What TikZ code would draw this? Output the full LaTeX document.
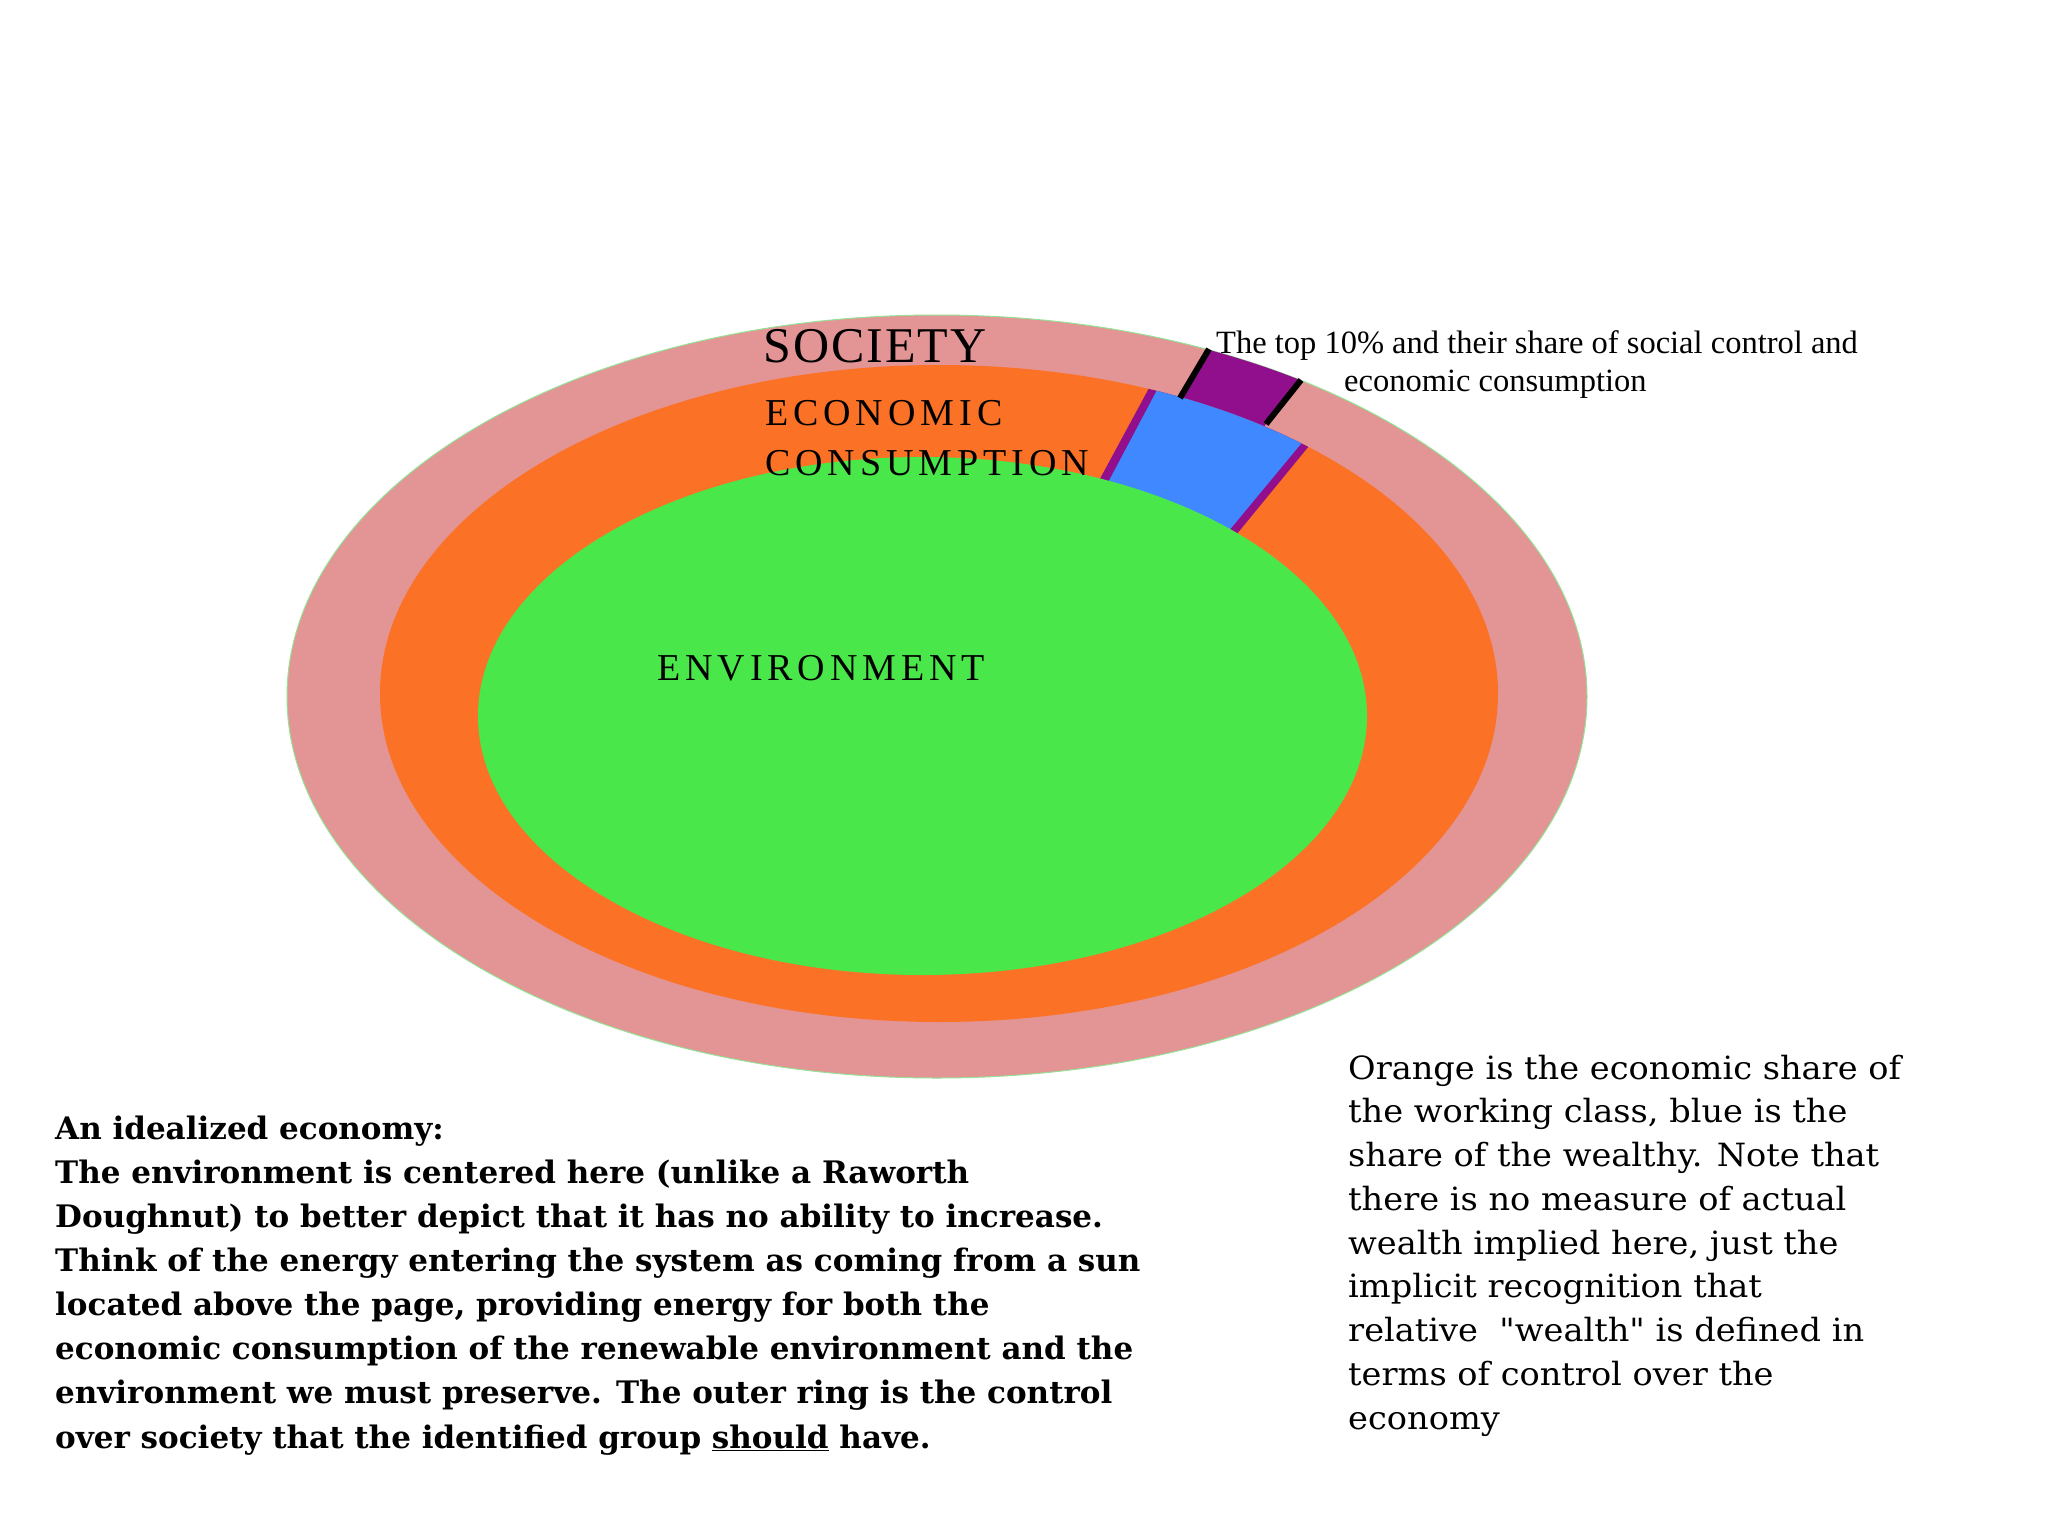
\documentclass[tikz,border=0pt]{standalone}
\usepackage{fontspec}
\setmainfont{Liberation Serif}
\newfontfamily\capsfont[LetterSpace=13]{Liberation Serif}
\newfontfamily\soccapsfont[LetterSpace=4]{Liberation Serif}
\newfontfamily\leftfont{DejaVu Serif}
\newfontfamily\rightfont[FakeStretch=1.05]{DejaVu Serif}
\definecolor{pinkring}{RGB}{227,148,148}
\definecolor{orangering}{RGB}{251,114,38}
\definecolor{greenenv}{RGB}{74,231,74}
\definecolor{bluewedge}{RGB}{64,136,255}
\definecolor{purplewedge}{RGB}{145,15,140}
\definecolor{rimgreen}{RGB}{150,225,150}
\tikzset{
  label/.style={inner sep=0pt, text=black},
  blackedge/.style={line width=6pt, black},
}
\begin{document}
\begin{tikzpicture}[x=1pt,y=-1pt]
\useasboundingbox (0,0) rectangle (2048,1536);
\fill[white] (0,0) rectangle (2048,1536);
% outer society ring
\fill[pinkring] (937,696.5) ellipse [x radius=650, y radius=381.5];
\draw[rimgreen, line width=1pt] (937,696.5) ellipse [x radius=650, y radius=381.5];
% purple top-10% wedge in society ring
\begin{scope}
  \clip (1238,300) -- (1353.5,314) -- (1231,468) -- (1151,447) -- cycle;
  \fill[purplewedge] (937,696.5) ellipse [x radius=650, y radius=381.5];
\end{scope}
% orange economic ring
\fill[orangering] (939,693.5) ellipse [x radius=559, y radius=328.5];
% purple stripes + blue wedge in economic ring
\begin{scope}
  \clip (1194,305) -- (1377,363) -- (1209,568) -- (1056,560) -- cycle;
  \fill[purplewedge] (939,693.5) ellipse [x radius=559, y radius=328.5];
\end{scope}
\begin{scope}
  \clip (1202,305) -- (1368,363) -- (1198,568) -- (1067,560) -- cycle;
  \fill[bluewedge] (939,693.5) ellipse [x radius=559, y radius=328.5];
\end{scope}
% green environment
\fill[greenenv] (922.5,716) ellipse [x radius=444.5, y radius=259];
% black edges of the top wedge
\coordinate (la) at (1209,349);
\coordinate (lb) at (1180,398);
\coordinate (ra) at (1301,380);
\coordinate (rb) at (1266,424);
\draw[blackedge] (la) -- (lb);
\draw[blackedge] (ra) -- (rb);
% ring labels
\node[label, anchor=base west] (soc) at (763,362) {\soccapsfont\fontsize{50}{50}\selectfont SOCIETY};
\node[label, anchor=base west] (eco) at (765,425) {\capsfont\fontsize{38}{38}\selectfont ECONOMIC};
\node[label, anchor=base west] (con) at (765,475) {\capsfont\fontsize{38}{38}\selectfont CONSUMPTION};
\node[label, anchor=base west] (env) at (657,680) {\capsfont\fontsize{38}{38}\selectfont ENVIRONMENT};
% top label (base anchor = last line)
\node[label, anchor=base west, align=left, font=\fontsize{32.5}{38}\selectfont] (top) at (1216,391)
  {The top 10\% and their share of social control and\\\hspace*{128pt}economic consumption};
% left text (base anchor = last line)
\node[label, anchor=base west, align=left, font=\leftfont\bfseries\fontsize{31}{44.1}\selectfont] (ltext) at (55,1448)
  {An idealized economy:\\
   The environment is centered here (unlike a Raworth\\
   Doughnut) to better depict that it has no ability to increase.\\
   Think of the energy entering the system as coming from a sun\\
   located above the page, providing energy for both the\\
   economic consumption of the renewable environment and the\\
   environment we must preserve. The outer ring is the control\\
   over society that the identified group \underline{should} have.};
% right text (base anchor = last line)
\node[label, anchor=base west, align=left, font=\rightfont\fontsize{32}{43.75}\selectfont] (rtext) at (1348,1429)
  {Orange is the economic share of\\
   the working class, blue is the\\
   share of the wealthy. Note that\\
   there is no measure of actual\\
   wealth implied here, just the\\
   implicit recognition that\\
   relative \ "wealth" is defined in\\
   terms of control over the\\
   economy};
\end{tikzpicture}
\end{document}
